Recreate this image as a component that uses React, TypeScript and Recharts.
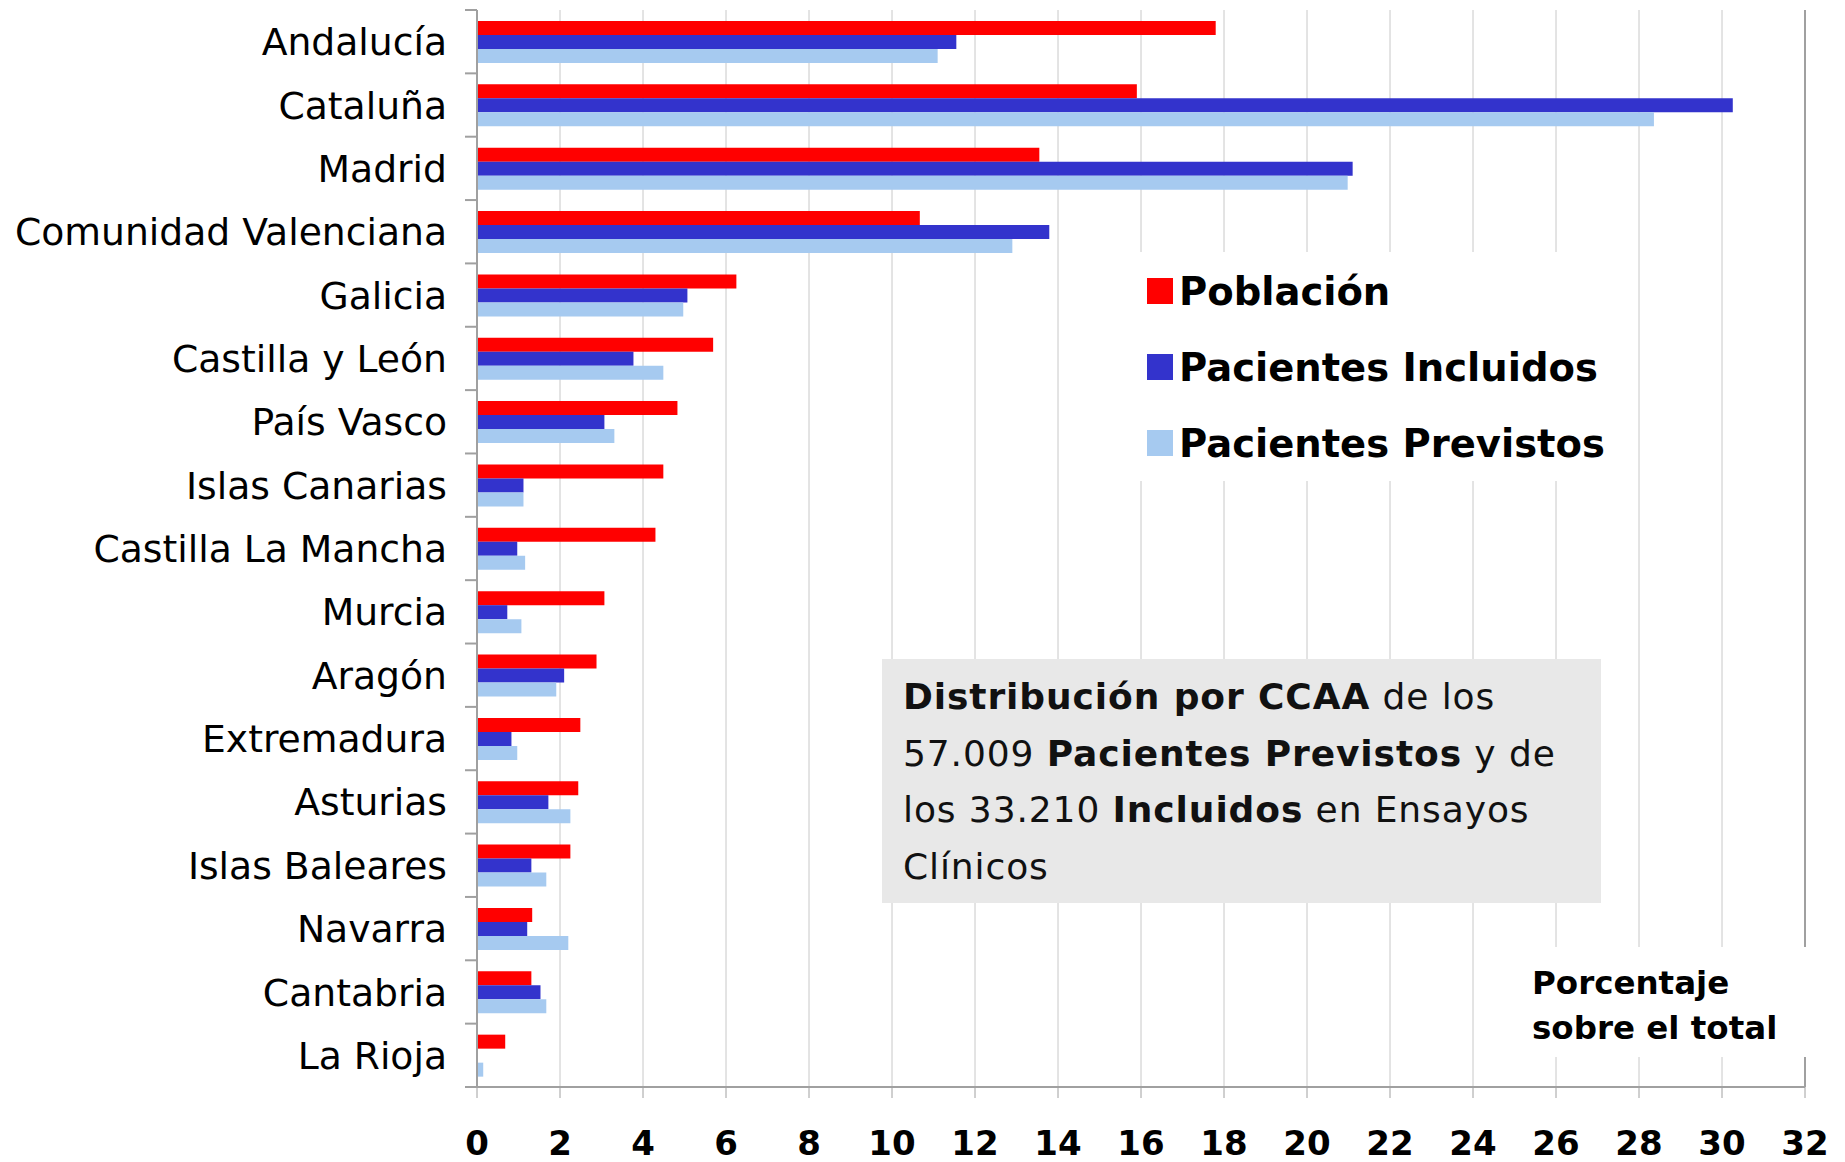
import { BarChart, Bar, XAxis, YAxis, CartesianGrid, Legend, ReferenceLine } from 'recharts';

const categories = [
  'Andalucía', 'Cataluña', 'Madrid', 'Comunidad Valenciana', 'Galicia', 'Castilla y León',
  'País Vasco', 'Islas Canarias', 'Castilla La Mancha', 'Murcia', 'Aragón', 'Extremadura',
  'Asturias', 'Islas Baleares', 'Navarra', 'Cantabria', 'La Rioja',
];
const poblacion = [17.8, 15.9, 13.55, 10.67, 6.25, 5.69, 4.83, 4.49, 4.3, 3.07, 2.88, 2.49, 2.44, 2.25, 1.33, 1.31, 0.68];
const incluidos = [11.55, 30.26, 21.1, 13.79, 5.07, 3.77, 3.07, 1.12, 0.97, 0.73, 2.1, 0.83, 1.72, 1.31, 1.21, 1.53, 0];
const previstos = [11.1, 28.36, 20.98, 12.9, 4.97, 4.49, 3.31, 1.12, 1.16, 1.07, 1.91, 0.97, 2.25, 1.67, 2.2, 1.67, 0.15];
const xTicks = [0, 2, 4, 6, 8, 10, 12, 14, 16, 18, 20, 22, 24, 26, 28, 30, 32];

const series = [
  { key: 'poblacion', name: 'Población', color: '#ff0000' },
  { key: 'incluidos', name: 'Pacientes Incluidos', color: '#3333cc' },
  { key: 'previstos', name: 'Pacientes Previstos', color: '#a6caf0' },
];

const data = categories.map((name, i) => ({
  name,
  poblacion: poblacion[i],
  incluidos: incluidos[i],
  previstos: previstos[i],
}));

const FONT = '"DejaVu Sans", Verdana, sans-serif';
const W = 1845;
const H = 1162;
const TOP = 10;
const AXIS_H = 75;
const BAND = (H - TOP - AXIS_H) / categories.length;
const GRAY = '#a0a0a0';

// excel style: tick marks between categories, label centred in band
const CategoryTick = (props: any) => {
  const { x, y, payload, index } = props;
  const half = BAND / 2;
  return (
    <g>
      <line x1={x - 12} x2={x} y1={y - half} y2={y - half} stroke={GRAY} strokeWidth={2} />
      {index === categories.length - 1 && (
        <line x1={x - 12} x2={x} y1={y + half} y2={y + half} stroke={GRAY} strokeWidth={2} />
      )}
      <text x={x - 30} y={y} dy="0.36em" textAnchor="end" fontSize={37.7} fontFamily={FONT} fill="#000">
        {payload.value}
      </text>
    </g>
  );
};

// keep legend in series order (recharts sorts it otherwise)
const renderLegend = () => (
  <div style={{ fontFamily: FONT, fontWeight: 'bold', fontSize: 38.5, color: '#000', paddingTop: 1, paddingLeft: 47 }}>
    {series.map((s) => (
      <div key={s.key} style={{ display: 'flex', alignItems: 'center', height: 76 }}>
        <span style={{ width: 26, height: 26, background: s.color, marginRight: 6, display: 'inline-block' }} />
        <span>{s.name}</span>
      </div>
    ))}
  </div>
);

export default function App() {
  return (
    <div style={{ position: 'absolute', left: 0, top: 0, width: W, height: H, background: '#fff' }}>
      <BarChart
        width={W}
        height={H}
        data={data}
        layout="vertical"
        margin={{ top: TOP, right: 40, left: 0, bottom: 0 }}
        barSize={14}
        barGap={0}
      >
        <CartesianGrid horizontal={false} stroke="#c8c8c8" />
        <XAxis
          type="number"
          dataKey="poblacion"
          domain={[0, 32]}
          ticks={xTicks}
          interval={0}
          height={AXIS_H}
          axisLine={{ stroke: GRAY, strokeWidth: 2 }}
          tickLine={{ stroke: GRAY, strokeWidth: 1 }}
          tickSize={11}
          tickMargin={33}
          tick={{ fontSize: 34, fontWeight: 'bold', fill: '#000', fontFamily: FONT }}
        />
        <XAxis
          xAxisId="top"
          orientation="top"
          type="number"
          domain={[0, 32]}
          height={0}
          tick={false}
          tickLine={false}
          axisLine={{ stroke: GRAY, strokeWidth: 2 }}
        />
        <YAxis
          type="category"
          dataKey="name"
          width={477}
          interval={0}
          tickSize={0}
          tickMargin={0}
          tickLine={false}
          axisLine={{ stroke: GRAY, strokeWidth: 2 }}
          tick={<CategoryTick />}
        />
        <ReferenceLine x={32} stroke={GRAY} strokeWidth={2} />
        <Legend
          layout="vertical"
          align="center"
          verticalAlign="middle"
          content={renderLegend}
          wrapperStyle={{ left: 1100, top: 252, width: 510, height: 229, background: '#fff' }}
        />
        {series.map((s) => (
          <Bar key={s.key} dataKey={s.key} name={s.name} fill={s.color} isAnimationActive={false} />
        ))}
      </BarChart>

      <div
        style={{
          position: 'absolute', left: 882, top: 659, width: 719, height: 244, boxSizing: 'border-box',
          background: '#e8e8e8', fontFamily: FONT, fontSize: 36, lineHeight: '56.5px', letterSpacing: 0.9,
          paddingTop: 10, paddingLeft: 21, color: '#111', whiteSpace: 'nowrap',
        }}
      >
        <b>Distribución por CCAA</b> de los<br />
        57.009 <b>Pacientes Previstos</b> y de<br />
        los 33.210 <b>Incluidos</b> en Ensayos<br />
        Clínicos
      </div>

      <div
        style={{
          position: 'absolute', left: 1525, top: 947, width: 320, height: 110, boxSizing: 'border-box',
          background: '#fff', fontFamily: FONT, fontWeight: 'bold', fontSize: 32.5, lineHeight: '45px',
          paddingTop: 14, paddingLeft: 7, color: '#000', whiteSpace: 'nowrap',
        }}
      >
        Porcentaje<br />
        sobre el total
      </div>
    </div>
  );
}
